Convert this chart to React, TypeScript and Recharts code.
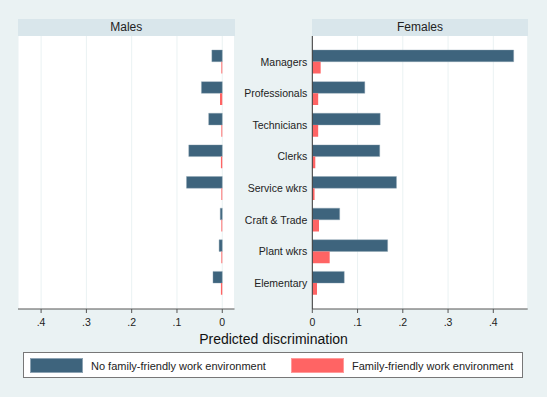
import React from 'react'
import { Bar, BarChart, CartesianGrid, XAxis, YAxis } from 'recharts'

const occupations = ['Managers', 'Professionals', 'Technicians', 'Clerks', 'Service wkrs', 'Craft & Trade', 'Plant wkrs', 'Elementary']
const maleNoFF = [0.023, 0.046, 0.03, 0.074, 0.079, 0.0045, 0.007, 0.0205]
const maleFF = [0.002, 0.005, 0.002, 0.003, 0.002, 0.002, 0.002, 0.003]
const femaleNoFF = [0.445, 0.116, 0.15, 0.149, 0.186, 0.0605, 0.1665, 0.0706]
const femaleFF = [0.0185, 0.013, 0.013, 0.0066, 0.005, 0.0148, 0.0384, 0.0104]
const xTicks = [0, 0.1, 0.2, 0.3, 0.4]
const seriesNames = ['No family-friendly work environment', 'Family-friendly work environment']

const NAVY = '#3E647D'
const PINK = '#FF6464'
const BG = '#EAF2F3'
const STRIP = '#D9E6EB'
const FONT = 'Arial, "Liberation Sans", sans-serif'

const maleData = occupations.map((occ, i) => ({ occ, noFF: maleNoFF[i], ff: maleFF[i] }))
const femaleData = occupations.map((occ, i) => ({ occ, noFF: femaleNoFF[i], ff: femaleFF[i] }))

const fmt = (v: number) => (v === 0 ? '0' : v.toFixed(1).replace(/^0/, ''))

const tickStyle = { fontSize: 10.5, fill: '#222', fontFamily: FONT }

function Strip({ left, width, label }: { left: number; width: number; label: string }) {
  return (
    <div
      style={{
        position: 'absolute', left, top: 19, width, height: 17, background: STRIP,
        fontFamily: FONT, fontSize: 12, color: '#222', textAlign: 'center', lineHeight: '17px',
      }}
    >
      {label}
    </div>
  )
}

export default function App() {
  return (
    <div style={{ position: 'absolute', left: 0, top: 0, width: 547, height: 397, background: BG, overflow: 'hidden' }}>
      <Strip left={18} width={216.5} label="Males" />
      <Strip left={312} width={216} label="Females" />

      <div style={{ position: 'absolute', left: 0, top: 0 }}>
        <BarChart
          width={547}
          height={330}
          data={maleData}
          layout="vertical"
          margin={{ top: 36, left: 18, right: 312.5, bottom: 0 }}
          barSize={11.7}
          barGap={0}
        >
          <CartesianGrid horizontal={false} stroke={BG} fill="#fff" />
          <XAxis
            type="number"
            domain={[-0.027, 0.451]}
            reversed
            ticks={xTicks}
            tickFormatter={fmt}
            height={21}
            tickSize={4}
            tickMargin={5.5}
            tick={tickStyle}
            stroke="#555"
            allowDataOverflow
          />
          <YAxis type="category" dataKey="occ" hide padding={{ top: 10, bottom: 10 }} />
          <Bar dataKey="noFF" name={seriesNames[0]} fill={NAVY} stroke="#8DA3B3" strokeWidth={0.4} isAnimationActive={false} />
          <Bar dataKey="ff" name={seriesNames[1]} fill={PINK} isAnimationActive={false} />
        </BarChart>
      </div>

      <div style={{ position: 'absolute', left: 0, top: 0 }}>
        <BarChart
          width={547}
          height={330}
          data={femaleData}
          layout="vertical"
          margin={{ top: 36, left: 172.3, right: 19.3, bottom: 0 }}
          barSize={11.7}
          barGap={0}
        >
          <CartesianGrid horizontal={false} stroke={BG} fill="#fff" />
          <XAxis
            type="number"
            domain={[0, 0.476]}
            ticks={xTicks}
            tickFormatter={fmt}
            height={21}
            tickSize={4}
            tickMargin={5.5}
            tick={tickStyle}
            stroke="#555"
            allowDataOverflow
          />
          <YAxis
            type="category"
            dataKey="occ"
            width={140}
            padding={{ top: 10, bottom: 10 }}
            tickLine={false}
            tickSize={3}
            tickMargin={2}
            tick={tickStyle}
            stroke="#333"
            interval={0}
          />
          <Bar dataKey="noFF" name={seriesNames[0]} fill={NAVY} stroke="#8DA3B3" strokeWidth={0.4} isAnimationActive={false} />
          <Bar dataKey="ff" name={seriesNames[1]} fill={PINK} isAnimationActive={false} />
        </BarChart>
      </div>

      <div
        style={{
          position: 'absolute', left: 0, width: 547, top: 330, textAlign: 'center',
          fontFamily: FONT, fontSize: 14, color: '#111', lineHeight: '18px',
        }}
      >
        Predicted discrimination
      </div>

      <div
        style={{
          position: 'absolute', left: 23, top: 352, width: 498, height: 24, background: '#fff',
          border: '1px solid #777', fontFamily: FONT, fontSize: 11, color: '#222',
        }}
      >
        {seriesNames.map((name, i) => (
          <div key={name} style={{ position: 'absolute', left: i === 0 ? 6 : 267, top: 5, display: 'flex', alignItems: 'center' }}>
            <div style={{ width: 51, height: 13, background: i === 0 ? NAVY : PINK, border: `0.5px solid ${i === 0 ? '#8DA3B3' : '#FF9A9A'}` }} />
            <span style={{ marginLeft: 8, lineHeight: '14px' }}>{name}</span>
          </div>
        ))}
      </div>
    </div>
  )
}
